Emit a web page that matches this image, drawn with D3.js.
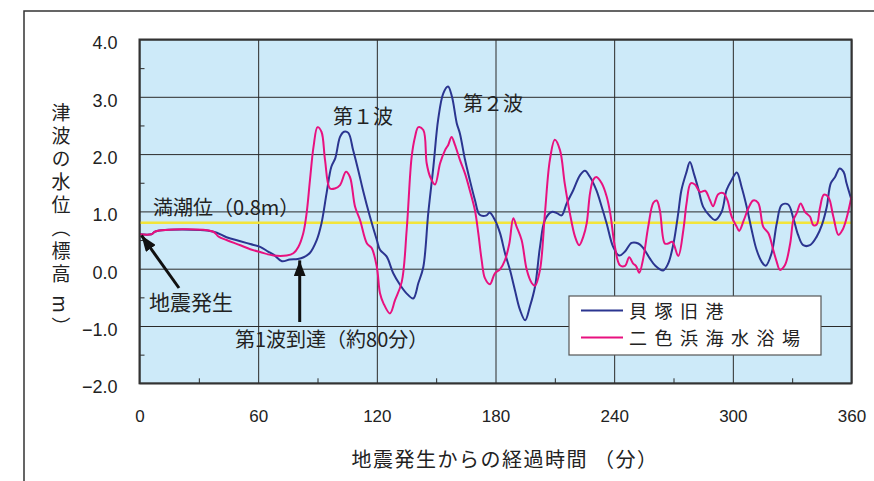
<!DOCTYPE html>
<html lang="ja">
<head>
  <meta charset="UTF-8">
  <title>津波の水位</title>
  <style>
    body, html {
      margin: 0;
      padding: 0;
      background: #fff;
    }
    svg text {
      fill: #222;
    }
    .num {
      font-family: "Liberation Sans", Arial, sans-serif;
      font-size: 17px;
    }
    .jp {
      font-family: "Noto Sans CJK JP", "Noto Sans", sans-serif;
    }
  </style>
</head>
<body>
  <svg id="svg" width="874" height="481"></svg>

  <script src="https://cdn.jsdelivr.net/npm/d3@7"></script>
  <script>
    // 貝塚旧港 (minutes after the quake, water level in m)
    const kaizukaT = [0, 6, 8, 37, 44, 51, 56, 61, 65, 68, 72, 76, 80, 83, 86, 89.6, 92, 94.6, 97, 99,
      101.4, 103.4, 105.6, 108, 110.6, 113, 116.5, 120, 121.6, 125, 128.3, 131.7, 135, 138.4, 141, 143.5,
      146, 148.6, 151, 153.6, 156, 158, 160.4, 162, 164.6, 167, 169.6, 172, 175.5, 177, 179.7, 182.3,
      184.8, 187.3, 189.8, 192.4, 195, 197.4, 200, 202.5, 205, 208.4, 211, 213.4, 216, 219.3, 222.7,
      225.2, 227.8, 231, 233.7, 236.2, 239.5, 242.5, 245.5, 248.8, 252.2, 254.7, 258, 260.6, 264.8,
      267.3, 270, 272.4, 274, 276.6, 278.3, 280.3, 282.5, 285, 288.4, 291, 294.3, 296.8, 299.4, 302,
      304.4, 307, 309.5, 312, 314.6, 316.6, 319.6, 322.2, 324.7, 328, 330.6, 333, 335.6, 339, 342.4,
      345, 347.5, 349.5, 351.7, 354, 356, 357.5, 360]
    const kaizukaV = [0.6, 0.6, 0.65, 0.65, 0.55, 0.48, 0.43, 0.38, 0.3, 0.24, 0.13, 0.16, 0.17, 0.2, 0.27, 0.5, 0.79, 1.32, 1.78, 1.93,
      2.3, 2.39, 2.37, 2.07, 1.72, 1.37, 0.91, 0.5, 0.33, 0.21, -0.08, -0.28, -0.43, -0.52, -0.25, 0.03,
      0.97, 1.78, 2.6, 3.06, 3.18, 3.0, 2.54, 2.36, 1.9, 1.55, 1.2, 0.94, 0.93, 0.98, 0.85, 0.62,
      0.27, -0.02, -0.37, -0.72, -0.9, -0.66, -0.31, 0.38, 0.85, 0.99, 0.97, 0.93, 1.14, 1.37, 1.63,
      1.71, 1.6, 1.37, 1.08, 0.79, 0.38, 0.23, 0.3, 0.45, 0.44, 0.36, 0.18, 0.06, -0.03,
      0.09, 0.44, 0.97, 1.37, 1.69, 1.86, 1.66, 1.4, 1.08, 0.92, 0.85, 0.99, 1.37, 1.55, 1.68,
      1.43, 1.08, 0.68, 0.33, 0.12, 0.05, 0.27, 0.79, 1.11, 1.12, 0.88, 0.59, 0.41, 0.41, 0.56,
      0.76, 1.08, 1.49, 1.6, 1.75, 1.69, 1.49, 1.2]

    // 二色浜海水浴場
    const nishikiT = [0, 6, 8, 37, 40, 44, 51, 56, 61, 67.7, 74.4, 77.8, 80.3, 82.8, 84.5, 86.2, 88, 90, 92, 93.8,
      96.3, 98.8, 101.4, 104.4, 106.4, 109, 111.5, 115, 117.4, 120, 121.6, 123.3, 126.6, 129.2, 132.6,
      135.1, 137.6, 139.3, 141, 143.5, 145.2, 147, 149.4, 152, 154.5, 156.1, 157.8, 159.5, 162, 164.6,
      167, 169.6, 171.3, 173, 174.7, 177.2, 179.7, 182.3, 184.8, 187, 189, 190.7, 193.2, 195.8, 198.3,
      200, 202.5, 205, 207.5, 210, 212.6, 215, 217.6, 220.2, 222.3, 224.4, 226.1, 227.8, 229.4, 231,
      233.7, 236.2, 238, 240.4, 242.9, 245.5, 247.6, 249.6, 251, 252.7, 254.7, 257.2, 259.8, 261.5,
      263.1, 265.6, 267.3, 269.4, 272.4, 275, 276.6, 278.7, 280.8, 283.4, 286, 288.4, 290, 292.6,
      295.2, 297.2, 299.4, 302, 303.2, 305.6, 307.8, 310.3, 312.8, 315.4, 318, 320.4, 322.2, 323.8,
      326.3, 329, 330.6, 332.3, 334.3, 336.5, 339, 340.7, 342.4, 344, 346, 348.3, 350.8, 353.4, 355.5,
      357.5, 360]
    const nishikiV = [0.6, 0.6, 0.65, 0.65, 0.56, 0.5, 0.41, 0.34, 0.29, 0.23, 0.23, 0.27, 0.38, 0.62, 0.97, 1.55, 2.13, 2.47, 2.39, 1.9,
      1.4, 1.4, 1.46, 1.69, 1.6, 1.08, 0.85, 0.44, 0.36, 0.03, -0.43, -0.6, -0.78, -0.55, -0.23,
      0.68, 1.95, 2.3, 2.47, 2.42, 1.84, 1.6, 1.47, 1.84, 2.07, 2.16, 2.3, 2.16, 1.9, 1.66,
      1.37, 1.02, 0.62, 0.15, -0.17, -0.27, -0.08, -0.01, 0.15, 0.44, 0.88, 0.73, 0.5, -0.02, -0.25,
      -0.3, -0.02, 0.97, 1.9, 2.25, 2.07, 1.49, 0.97, 0.56, 0.41, 0.56, 0.79, 1.32, 1.55, 1.6,
      1.49, 1.26, 0.97, 0.38, 0.06, 0.05, 0.2, 0.09, 0.05, -0.07, 0.18, 0.73, 1.15, 1.19,
      1.02, 0.44, 0.44, 0.47, 0.22, 0.68, 1.14, 1.49, 1.47, 1.34, 1.36, 1.2, 1.09, 1.3,
      1.32, 1.2, 0.91, 0.73, 0.66, 0.85, 1.05, 1.19, 1.15, 0.73, 0.62, 0.33, 0.12, -0.02,
      0.06, 0.44, 0.85, 0.97, 1.14, 0.99, 0.91, 0.76, 0.77, 1.05, 1.29, 1.25, 0.91, 0.59, 0.68,
      0.88, 1.26]

    const seriesNames = ['貝塚旧港', '二色浜海水浴場']
    const seriesColors = ['#2b3590', '#e8117f']
    const xTicks = [0, 60, 120, 180, 240, 300, 360]
    const yTicks = [-2, -1, 0, 1, 2, 3, 4]
    const highTide = 0.8

    const plotL = 139.5, plotR = 851.5, plotT = 39.5, plotB = 383.3
    const plotW = plotR - plotL, plotH = plotB - plotT

    const x = d3.scaleLinear().domain([0, 360]).range([plotL, plotR])
    const y = d3.scaleLinear().domain([-2, 4]).range([plotB, plotT])

    const svg = d3.select('#svg')

    // outer frame (top and left only)
    svg.append('path')
      .attr('d', 'M24,481 L24,11 L874,11')
      .attr('fill', 'none')
      .attr('stroke', '#333')
      .attr('stroke-width', 1.5)

    svg.append('rect')
      .attr('x', plotL).attr('y', plotT)
      .attr('width', plotW).attr('height', plotH)
      .attr('fill', '#cdeaf9')

    // grid + labels
    const yAxis = svg.append('g')
      .attr('transform', `translate(${plotL},0)`)
      .call(d3.axisLeft(y).tickValues(yTicks).tickSize(-plotW).tickPadding(22).tickFormat(d3.format('.1f')))
    yAxis.select('.domain').remove()
    yAxis.selectAll('line').attr('stroke', '#2a2a2a').attr('stroke-width', 1)
    yAxis.selectAll('text').attr('class', 'num').attr('dy', '0.52em').style('font-size', '18px')

    const xAxis = svg.append('g')
      .attr('transform', `translate(0,${plotB})`)
      .call(d3.axisBottom(x).tickValues(xTicks).tickSize(-plotH).tickPadding(27))
    xAxis.select('.domain').remove()
    xAxis.selectAll('line').attr('stroke', '#2a2a2a').attr('stroke-width', 1)
    xAxis.selectAll('text').attr('class', 'num')

    // minor ticks inside the plot
    const yMinor = svg.append('g')
      .attr('transform', `translate(${plotL},0)`)
      .call(d3.axisLeft(y).tickValues([-1.5, -0.5, 0.5, 1.5, 2.5, 3.5]).tickSize(-5).tickFormat(''))
    yMinor.select('.domain').remove()
    yMinor.selectAll('line').attr('stroke', '#2a2a2a')

    const xMinor = svg.append('g')
      .attr('transform', `translate(0,${plotB})`)
      .call(d3.axisBottom(x).tickValues([30, 90, 150, 210, 270, 330]).tickSize(-5).tickFormat(''))
    xMinor.select('.domain').remove()
    xMinor.selectAll('line').attr('stroke', '#2a2a2a')

    // high tide line
    svg.append('line')
      .attr('x1', plotL).attr('x2', plotR)
      .attr('y1', y(highTide)).attr('y2', y(highTide))
      .attr('stroke', '#f2e43a')
      .attr('stroke-width', 2.5)

    const line = d3.line()
      .x(d => x(d[0]))
      .y(d => y(d[1]))
      .curve(d3.curveCatmullRom.alpha(0.5))

    const series = [
      d3.zip(kaizukaT, kaizukaV),
      d3.zip(nishikiT, nishikiV)
    ]

    svg.append('g')
      .selectAll('path')
      .data(series)
      .enter()
      .append('path')
      .attr('d', line)
      .attr('fill', 'none')
      .attr('stroke', (d, i) => seriesColors[i])
      .attr('stroke-width', 2)
      .attr('stroke-linejoin', 'round')

    // plot border
    svg.append('rect')
      .attr('x', plotL).attr('y', plotT)
      .attr('width', plotW).attr('height', plotH)
      .attr('fill', 'none')
      .attr('stroke', '#333')
      .attr('stroke-width', 2)

    // arrows
    svg.append('defs').append('marker')
      .attr('id', 'head')
      .attr('viewBox', '0 0 16 12')
      .attr('refX', 16).attr('refY', 6)
      .attr('markerWidth', 16).attr('markerHeight', 12)
      .attr('markerUnits', 'userSpaceOnUse')
      .attr('orient', 'auto')
      .append('path')
      .attr('d', 'M0,0 L16,6 L0,12 Z')
      .attr('fill', '#111')

    const arrows = [
      { from: [179, 288], to: [x(1), y(0.58)] },
      { from: [x(81), 322], to: [x(81), y(0.18) + 2] }
    ]
    svg.append('g')
      .selectAll('line')
      .data(arrows)
      .enter()
      .append('line')
      .attr('x1', d => d.from[0]).attr('y1', d => d.from[1])
      .attr('x2', d => d.to[0]).attr('y2', d => d.to[1])
      .attr('stroke', '#111')
      .attr('stroke-width', 3)
      .attr('marker-end', 'url(#head)')

    // annotations
    const notes = [
      { text: '第１波', x: 333, y: 124, size: 20 },
      { text: '第２波', x: 463, y: 111, size: 20 },
      { text: '満潮位（0.8m）', x: 153, y: 215, size: 20 },
      { text: '地震発生', x: 149, y: 310, size: 21 },
      { text: '第1波到達（約80分）', x: 235, y: 347, size: 20 }
    ]
    svg.append('g')
      .selectAll('text')
      .data(notes)
      .enter()
      .append('text')
      .attr('class', 'jp')
      .attr('x', d => d.x)
      .attr('y', d => d.y)
      .style('font-size', d => d.size + 'px')
      .text(d => d.text)

    // legend
    const legend = svg.append('g')
    legend.append('rect')
      .attr('x', 569).attr('y', 296)
      .attr('width', 252).attr('height', 59)
      .attr('fill', '#fff')
      .attr('stroke', '#555')
      .attr('stroke-width', 1.2)
    seriesNames.forEach((name, i) => {
      const ly = 310.5 + i * 27
      legend.append('line')
        .attr('x1', 581).attr('x2', 623)
        .attr('y1', ly).attr('y2', ly)
        .attr('stroke', seriesColors[i])
        .attr('stroke-width', 2)
      legend.append('text')
        .attr('class', 'jp')
        .attr('x', 629).attr('y', ly + 7)
        .style('font-size', '18px')
        .style('letter-spacing', '7.5px')
        .text(name)
    })

    // axis titles
    svg.append('text')
      .attr('class', 'jp')
      .attr('x', 505).attr('y', 467)
      .attr('text-anchor', 'middle')
      .style('font-size', '20px')
      .style('letter-spacing', '1.5px')
      .text('地震発生からの経過時間 （分）')

    svg.append('text')
      .attr('class', 'jp')
      .attr('x', 61).attr('y', 103)
      .style('font-size', '19px')
      .style('writing-mode', 'vertical-rl')
      .style('letter-spacing', '4px')
      .text('津波の水位（標高 m）')
  </script>
</body>
</html>
